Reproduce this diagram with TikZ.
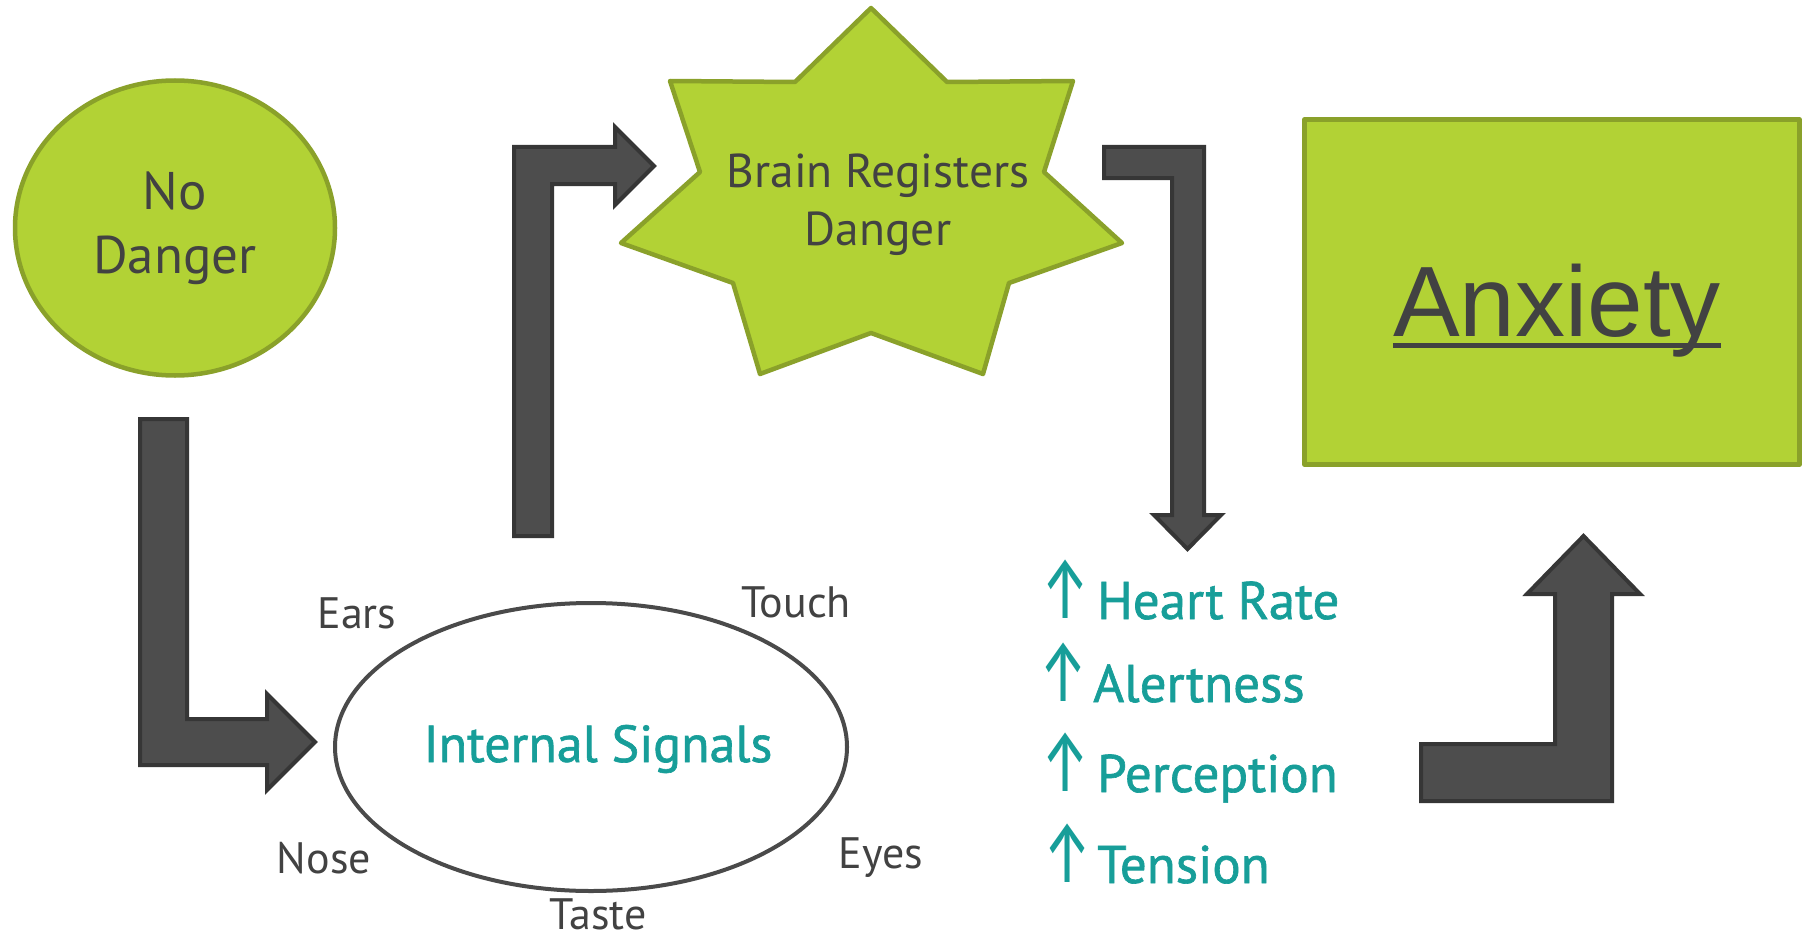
\documentclass[tikz,border=0pt]{standalone}
\usepackage{fontspec}
\setmainfont{PT Sans}
\newfontfamily\arialf{Liberation Sans}
\newfontfamily\arrf{Fira Sans}
\newfontfamily\tealf[FakeBold=1.2]{PT Sans}
\usetikzlibrary{shapes.geometric}
\definecolor{leaf}{HTML}{B2D235}
\definecolor{leafedge}{HTML}{8AA12A}
\definecolor{arrowfill}{HTML}{4D4D4D}
\definecolor{arrowedge}{HTML}{363636}
\definecolor{graytxt}{HTML}{424242}
\definecolor{tealtxt}{HTML}{179E99}
\definecolor{ellipseedge}{HTML}{4A4A4A}
\newcommand{\uparr}{\raisebox{1pt}{\scalebox{1.05}[1.65]{\arrf ↑}}}
\begin{document}
\begin{tikzpicture}[x=1pt,y=-1pt,
  greenshape/.style={fill=leaf, draw=leafedge, line width=4.5pt, line join=round},
  blockarrow/.style={fill=arrowfill, draw=arrowedge, line width=4pt, line join=miter},
  senselabel/.style={text=graytxt, font=\fontsize{44}{53}\selectfont, inner sep=0pt, anchor=base},
  risetext/.style={text=tealtxt, font=\tealf\fontsize{53}{64}\selectfont, inner sep=0pt, anchor=base west}]
\useasboundingbox (0,0) rectangle (1812,939);
\fill[white] (0,0) rectangle (1812,939);

% No Danger
\node[ellipse, greenshape, minimum width=320pt, minimum height=295pt, align=center,
      text=graytxt, font=\fontsize{53}{64}\selectfont, inner sep=0pt] (nodanger) at (175,228) {No\\Danger};

% Brain Registers Danger (7-point star)
\draw[greenshape] (871,8) -- (947,82) -- (1073,81) -- (1044,172) -- (1122,243) -- (1009,283)
  -- (983,374) -- (871,333) -- (760,374) -- (733,283) -- (621,243) -- (700,172)
  -- (670,81) -- (795,82) -- cycle;
\node[text=graytxt, font=\fontsize{47.5}{58}\selectfont, align=center, inner sep=0pt] (brain) at (878,205) {Brain Registers\\Danger};

% Anxiety
\node[rectangle, greenshape, minimum width=495pt, minimum height=345pt] (anxbox) at (1552,292) {};
\node[font=\arialf\fontsize{100}{120}\selectfont, text=graytxt, inner sep=0pt, anchor=base] (anxiety) at (1557,336) {Anxiety};
\draw[line width=5pt, graytxt] ([yshift=-9.5pt]anxiety.base west) -- ([yshift=-9.5pt]anxiety.base east);

% Internal Signals
\node[ellipse, draw=ellipseedge, line width=4pt, minimum width=512pt, minimum height=288pt] (signals) at (591,747) {};
\node[text=tealtxt, font=\tealf\fontsize{52}{64}\selectfont, inner sep=0pt, anchor=base] (sigtext) at (598,762) {Internal Signals};

\node[senselabel] (ears) at (357,628) {Ears};
\node[senselabel] (touch) at (796,617) {Touch};
\node[senselabel] (nose) at (324,873) {Nose};
\node[senselabel] (eyes) at (881,868) {Eyes};
\node[senselabel] (taste) at (598,929) {Taste};

% Effects list
\node[risetext] (heart) at (1097,619) {\llap{\uparr\hspace{7pt}}Heart Rate};
\node[risetext] (alert) at (1093,702) {\llap{\uparr\hspace{5pt}}Alertness};
\node[risetext] (percep) at (1097,792) {\llap{\uparr\hspace{7pt}}Perception};
\node[risetext] (tension) at (1097,883) {\llap{\uparr\hspace{5pt}}Tension};

% Block arrows
\draw[blockarrow] (140,419) -- (187,419) -- (187,719) -- (267,719) -- (267,694) -- (315,742)
  -- (267,790) -- (267,765) -- (140,765) -- cycle;
\draw[blockarrow] (514,536) -- (514,147) -- (615,147) -- (615,127) -- (654,166) -- (615,205)
  -- (615,184) -- (552,184) -- (552,536) -- cycle;
\draw[blockarrow] (1104,147) -- (1204,147) -- (1204,515) -- (1221,515) -- (1187.5,549)
  -- (1154,515) -- (1172,515) -- (1172,178) -- (1104,178) -- cycle;
\draw[blockarrow] (1421,744) -- (1555,744) -- (1555,594) -- (1527,594) -- (1583.5,536)
  -- (1640,594) -- (1612,594) -- (1612,801) -- (1421,801) -- cycle;
\end{tikzpicture}
\end{document}
